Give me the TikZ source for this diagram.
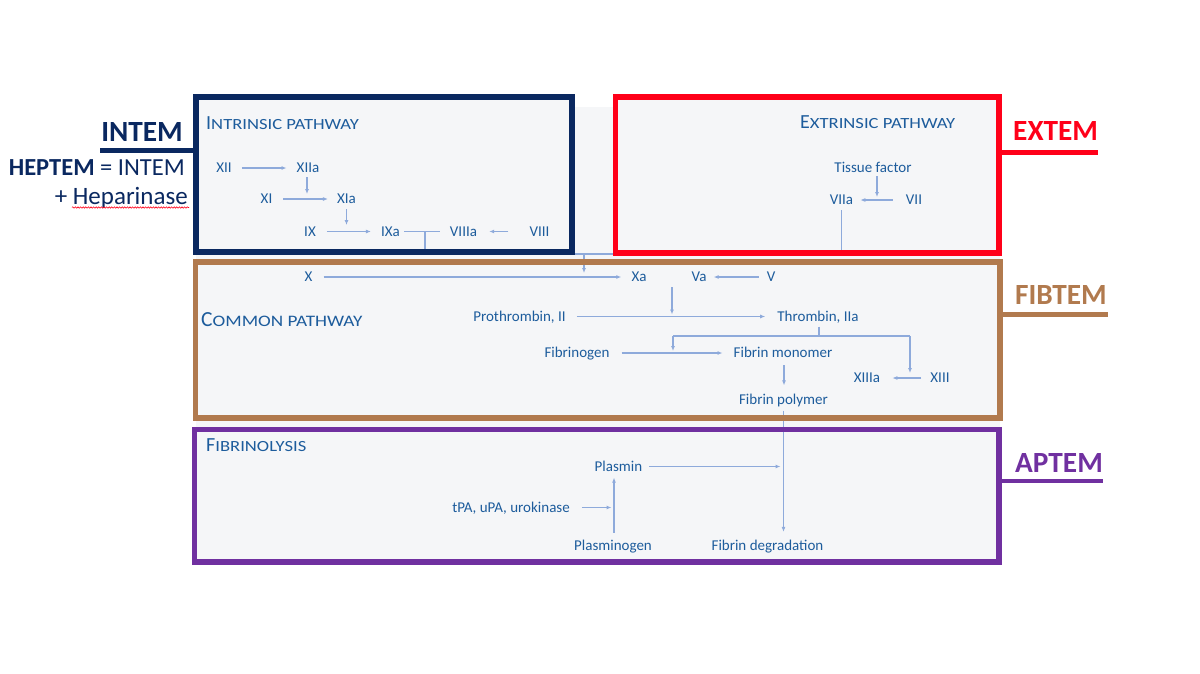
\documentclass[tikz,border=0pt]{standalone}
\usepackage{fontspec}
\usepackage{graphicx}
\setmainfont{Carlito}
\usetikzlibrary{arrows.meta,calc,decorations.pathmorphing}

\definecolor{navy}{HTML}{0A2860}
\definecolor{extred}{HTML}{FF0019}
\definecolor{fibbrown}{HTML}{B17A4E}
\definecolor{aptpurple}{HTML}{7030A0}
\definecolor{txtblue}{HTML}{1D5C9C}
\definecolor{arrowblue}{HTML}{8EAADB}
\definecolor{panelgray}{HTML}{F5F6F8}

% title in small capitals: first letter large, the rest smaller and widened
\newcommand\sctitle[4]{{\fontsize{#1}{#1}\selectfont #3}\scalebox{1.2}[1]{\fontsize{#2}{#2}\selectfont #4}}

\tikzset{
  lbl/.style={font=\fontsize{15}{15}\selectfont, text=txtblue, inner sep=0pt,
              text height=9.8pt, text depth=0pt},
  ttl/.style={text=txtblue, inner sep=0pt, anchor=base west},
  arr/.style={draw=arrowblue, line width=1.2pt, -{Latex[length=5pt,width=4pt]}},
  link/.style={draw=arrowblue, line width=1.2pt},
  panel/.style={fill=panelgray, draw=none},
  frame/.style={line width=5.5pt},
  tagbar/.style={line width=5pt},
  tag/.style={font=\bfseries\fontsize{29.3}{30}\selectfont, inner sep=0pt, anchor=base west},
}

\begin{document}
\begin{tikzpicture}[x=1pt,y=-1pt]
\useasboundingbox (0,0) rectangle (1200,673);

% background panel and box fills
\fill[panelgray] (196,107) rectangle (1000,562);
\fill[panelgray] (196,97) rectangle (572,252);
\fill[panelgray] (615.5,97) rectangle (999,253);
\fill[panelgray] (195.5,262) rectangle (1000,418);
\fill[panelgray] (194.5,429.5) rectangle (999,562);

% section titles
\node[ttl] (tint) at (206,129) {\sctitle{20}{15.5}{I}{NTRINSIC PATHWAY}};
\node[ttl] (text) at (800,128) {\sctitle{20}{15.5}{E}{XTRINSIC PATHWAY}};
\node[ttl] (tcom) at (201,326) {\sctitle{21.5}{16}{C}{OMMON PATHWAY}};
\node[ttl] (tfib) at (206,451) {\sctitle{20}{15.5}{F}{IBRINOLYSIS}};

% intrinsic pathway factors
\node[lbl] (XII)   at (224,168)   {XII};
\node[lbl] (XIIa)  at (308,168)   {XIIa};
\node[lbl] (XI)    at (266.5,199) {XI};
\node[lbl] (XIa)   at (346.5,199) {XIa};
\node[lbl] (IX)    at (310,231.5) {IX};
\node[lbl] (IXa)   at (390.5,231.5) {IXa};
\node[lbl] (VIIIa) at (463.5,231.5) {VIIIa};
\node[lbl] (VIII)  at (539.5,231.5) {VIII};

% extrinsic pathway factors
\node[lbl] (TF)   at (873,168)   {Tissue factor};
\node[lbl] (VIIa) at (841.5,200) {VIIa};
\node[lbl] (VII)  at (914,200)   {VII};

% common pathway
\node[lbl] (X)     at (308.5,277) {X};
\node[lbl] (Xa)    at (639,277)   {Xa};
\node[lbl] (Va)    at (699,277)   {Va};
\node[lbl] (V)     at (771,277)   {V};
\node[lbl] (Pro)   at (519.5,316.5) {Prothrombin, II};
\node[lbl] (Thr)   at (818,316.5) {Thrombin, IIa};
\node[lbl] (Fgn)   at (577,353)   {Fibrinogen};
\node[lbl] (FM)    at (783,353)   {Fibrin monomer};
\node[lbl] (XIIIa) at (867,378)   {XIIIa};
\node[lbl] (XIII)  at (940,378)   {XIII};
\node[lbl] (FP)    at (783.5,399.5) {Fibrin polymer};

% fibrinolysis
\node[lbl] (Plasmin) at (618.5,466.5) {Plasmin};
\node[lbl] (tPA)     at (511,507.5)   {tPA, uPA, urokinase};
\node[lbl] (Plg)     at (613,545.5)   {Plasminogen};
\node[lbl] (FD)      at (767.5,545.5) {Fibrin degradation};

% junction points
\coordinate (cxa) at ($(IXa.east)!0.5!(VIIIa.west)$);
\coordinate (bus) at (584,254);
\coordinate (cxv) at (672,277);
\coordinate (split) at (819,336);
\coordinate (cleft) at (673,336);
\coordinate (cright) at (910,336);

% intrinsic connectors
\draw[arr, shorten <=10pt, shorten >=10pt] (XII) -- (XIIa);
\draw[arr, shorten <=4pt, shorten >=5pt] ([xshift=-1pt]XIIa.south) -- ([xshift=-1pt]XIIa.south |- XI);
\draw[arr, shorten <=11pt, shorten >=9pt] (XI) -- (XIa);
\draw[arr, shorten <=5pt, shorten >=6.5pt] (XIa.south) -- (XIa.south |- IX);
\draw[arr, shorten <=11pt, shorten >=10pt] (IX) -- (IXa);
\draw[link, shorten <=4pt, shorten >=10pt] (IXa) -- (VIIIa);
\draw[arr, shorten <=21pt, shorten >=12pt] (VIII) -- (VIIIa);

% extrinsic connectors
\draw[arr, shorten <=3pt, shorten >=3pt] ([xshift=4pt]TF.south) -- ([xshift=4pt]TF.south |- VII);
\draw[arr, shorten <=13pt, shorten >=7pt] (VII) -- (VIIa);

% tenase and VIIa feed into X -> Xa
\draw[link] (cxa) |- (bus) -| ($(VIIa.south)+(0,5)$);
\draw[arr, shorten >=4pt] (bus) -- (bus |- X);

% common pathway connectors
\draw[arr, shorten <=11pt, shorten >=10pt] (X) -- (Xa);
\draw[arr, shorten <=8pt, shorten >=7pt] (V) -- (Va);
\draw[arr, shorten <=10pt, shorten >=2pt] (cxv) -- (cxv |- Pro);
\draw[arr, shorten <=11pt, shorten >=12pt] (Pro) -- (Thr);
\draw[link, shorten <=5pt] (Thr.south -| split) -- (split);
\draw[link] (cleft) -- (cright);
\draw[arr, shorten >=2pt] (cleft) -- (cleft |- FM);
\draw[arr, shorten >=5pt] (cright) -- (cright |- XIII);
\draw[arr, shorten <=12pt, shorten >=11pt] (Fgn) -- (FM);
\draw[arr, shorten <=9pt, shorten >=12pt] (XIII) -- (XIIIa);
\draw[arr, shorten <=7pt, shorten >=9pt] ([xshift=1pt]FM.south) -- ([xshift=1pt]FM.south |- FP.north);

% fibrinolysis connectors
\draw[arr, shorten <=6pt, shorten >=8.5pt] (FP.south) -- (FP.south |- FD.north);
\draw[arr, shorten <=7pt, shorten >=3pt] (Plasmin) -- (Plasmin -| FP);
\draw[arr, shorten <=12pt, shorten >=1.5pt] (tPA) -- (tPA -| Plg);
\draw[arr, shorten <=7.5pt, shorten >=6pt] ([xshift=1pt]Plg.north) -- ([xshift=1pt]Plg.north |- Plasmin.south);

% frames
\draw[frame, navy] (196,97) rectangle (572,252);
\draw[frame, extred] (615.5,97) rectangle (999,253);
\draw[frame, fibbrown] (195.5,262) rectangle (1000,418);
\draw[frame, aptpurple] (194.5,429.5) rectangle (999,562);

% assay tags
\node[tag, anchor=base east, text=navy] (intem) at (183,141) {INTEM};
\draw[tagbar, navy] (100,150) -- (196,150);
\node[inner sep=0pt, anchor=base east, text=navy, font=\fontsize{24.5}{26}\selectfont] (heptem) at (185,175) {\textbf{HEPTEM} = INTEM};
\node[inner sep=0pt, anchor=base east, text=navy, font=\fontsize{25}{26}\selectfont] (hepar) at (188,204) {+ Heparinase};
\draw[extred, line width=0.6pt, decorate, decoration={snake, amplitude=0.7pt, segment length=2.6pt}] (72,207.5) -- (189,207.5);

\node[tag, text=extred] (extem) at (1013,140) {EXTEM};
\draw[tagbar, extred] (999,152) -- (1098,152);
\node[tag, text=fibbrown] (fibtem) at (1015,304) {FIBTEM};
\draw[tagbar, fibbrown] (1000,314) -- (1108,314);
\node[tag, text=aptpurple] (aptem) at (1015,472) {APTEM};
\draw[tagbar, aptpurple, line width=4.5pt] (999,481) -- (1103,481);
\end{tikzpicture}
\end{document}
